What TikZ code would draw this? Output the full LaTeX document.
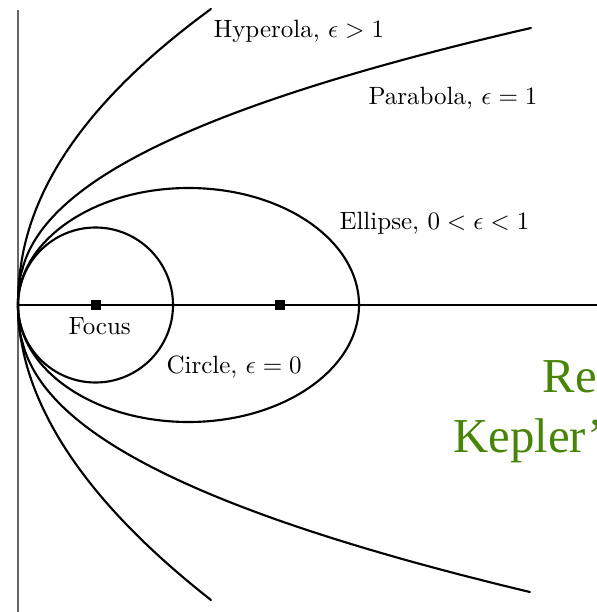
\documentclass[tikz,border=0pt]{standalone}
\usepackage{fontspec}
\newfontfamily\greenfont{Liberation Serif}
\definecolor{titlegreen}{RGB}{72,132,8}
\begin{document}
\begin{tikzpicture}[x=0.4pt,y=-0.4pt,
  curve/.style={line width=0.85pt},
  axisv/.style={line width=0.55pt, black!60},
  axish/.style={line width=0.5pt, black},
  lbl/.style={anchor=base west, inner sep=0pt, font=\fontsize{10}{12}\selectfont},
  marker/.style={fill=black, inner sep=0pt, minimum size=4pt},
  gtitle/.style={anchor=base west, inner sep=0pt, text=titlegreen, font=\greenfont\fontsize{19.5}{24}\selectfont}]
\useasboundingbox (0,0) rectangle (597,612);
% axes
\coordinate (vtop) at (18,10);
\coordinate (vbot) at (18,612);
\coordinate (hl) at (18,305);
\coordinate (hr) at (597,305);
\draw[axisv] (vtop) -- (vbot);
\draw[axish] (hl) -- (hr);
% circle and ellipse
\draw[curve] (95.5,305) circle [radius=77.5];
\draw[curve] (188.5,305) ellipse [x radius=170.5, y radius=117];
% parabola
\draw[curve, line cap=round] plot[domain=0.3:277, samples=80, variable=\t] ({18+513*(\t/277)^2.35},{305-\t});
\draw[curve, line cap=round] plot[domain=0.3:287, samples=80, variable=\t] ({18+512*(\t/287)^2.35},{305+\t});
% hyperbola
\draw[curve, line cap=round] plot[domain=0.3:296, samples=80, variable=\t] ({18+193*(\t/296)^2.1},{305-\t});
\draw[curve, line cap=round] plot[domain=0.3:295, samples=80, variable=\t] ({18+193*(\t/295)^1.95},{305+\t});
% markers
\node[marker] (focus) at (96,305) {};
\node[marker] (focus2) at (280,305) {};
% labels
\node[lbl] (hyp) at (213,38) {Hyperola, $\epsilon>1$};
\node[lbl] (par) at (368,105) {Parabola, $\epsilon=1$};
\node[lbl] (ell) at (339,230) {Ellipse, $0<\epsilon<1$};
\node[lbl] (foc) at (68,334) {Focus};
\node[lbl] (cir) at (166,373) {Circle, $\epsilon=0$};
% green title text (cut off at the right edge, as in the reference)
\node[gtitle] (t1) at (542,392) {Results};
\node[gtitle] (t2) at (453,452) {Kepler’s Laws};
\end{tikzpicture}
\end{document}
